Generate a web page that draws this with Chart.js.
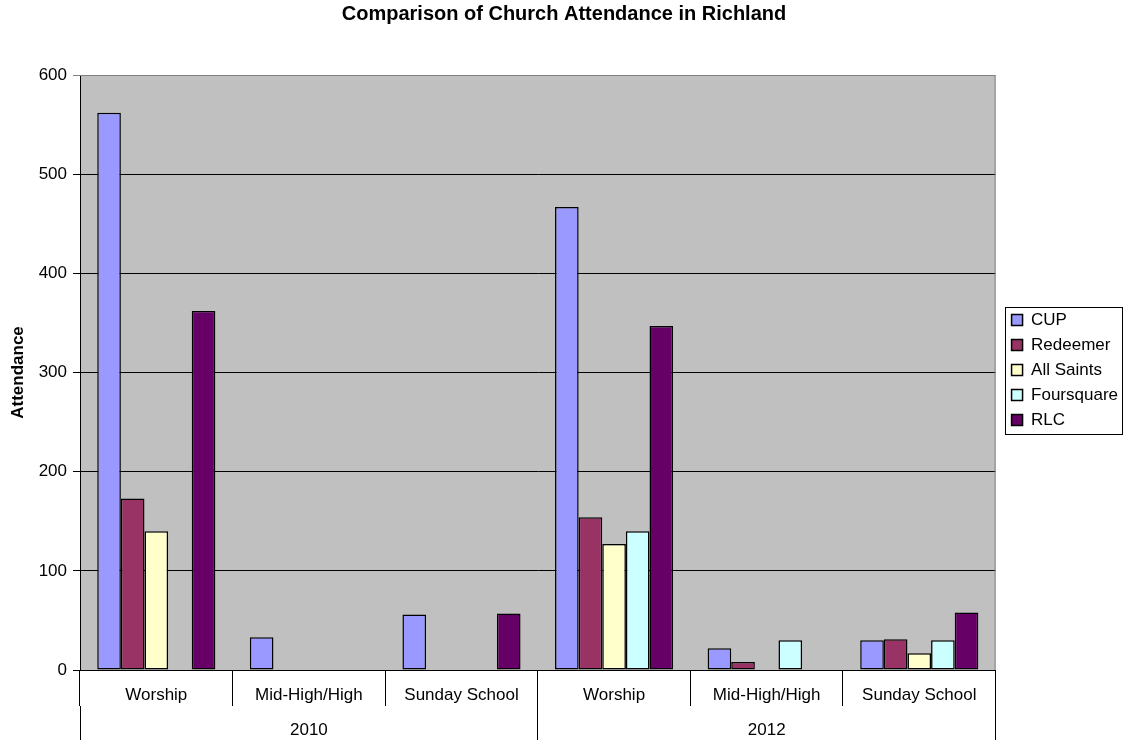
<!DOCTYPE html>
<html>
<head>
<meta charset="utf-8">
<script src="https://cdn.jsdelivr.net/npm/chart.js@4"></script>
<style>
  body { margin: 0; background: #fff; }
  #wrap { width: 1125px; height: 740px; }
</style>
</head>
<body>
<div id="wrap"><canvas id="chart"></canvas></div>
<script>
// data
const services = ['Worship', 'Mid-High/High', 'Sunday School', 'Worship', 'Mid-High/High', 'Sunday School'];
const years = ['2010', '2012'];
const cup = [562, 33, 56, 467, 22, 30];
const redeemer = [173, null, null, 154, 8, 31];
const allSaints = [140, null, null, 127, null, 17];
const foursquare = [null, null, null, 140, 30, 30];
const rlc = [362, null, 57, 347, null, 58];

const FONT = '"Liberation Sans", Arial, sans-serif';

// grey plot area + legend frame
const frame = {
  id: 'frame',
  beforeDraw(chart) {
    const { ctx, chartArea: a } = chart;
    ctx.save();
    ctx.fillStyle = '#C0C0C0';
    ctx.fillRect(a.left, a.top, a.right - a.left, a.bottom - a.top);
    ctx.restore();
  },
  afterDraw(chart) {
    const { ctx, chartArea: a } = chart;
    ctx.save();
    ctx.strokeStyle = '#808080';
    ctx.lineWidth = 1;
    ctx.beginPath();
    ctx.moveTo(a.left, a.top + 0.5);
    ctx.lineTo(a.right - 0.5, a.top + 0.5);
    ctx.lineTo(a.right - 0.5, a.bottom);
    ctx.stroke();

    const boxes = chart.legend.legendHitBoxes;
    if (boxes && boxes.length) {
      const l = Math.min(...boxes.map(b => b.left)) - 7;
      const r = Math.max(...boxes.map(b => b.left + b.width)) + 4;
      const t = boxes[0].top - 5;
      const last = boxes[boxes.length - 1];
      const b = last.top + last.height + 5;
      ctx.strokeStyle = '#000';
      ctx.strokeRect(Math.round(l) + 0.5, Math.round(t) + 0.5, Math.round(r - l), Math.round(b - t));
    }
    ctx.restore();
  }
};

const ds = (label, data, color) => ({
  label, data,
  backgroundColor: color,
  borderColor: '#000',
  borderWidth: 1.5,
  borderSkipped: false,
  categoryPercentage: 0.774,
  barPercentage: 1.0
});

new Chart(document.getElementById('chart'), {
  type: 'bar',
  data: {
    labels: services,
    datasets: [
      ds('CUP', cup, '#9999FF'),
      ds('Redeemer', redeemer, '#993366'),
      ds('All Saints', allSaints, '#FFFFCC'),
      ds('Foursquare', foursquare, '#CCFFFF'),
      ds('RLC', rlc, '#660066')
    ]
  },
  options: {
    responsive: true,
    maintainAspectRatio: false,
    animation: false,
    layout: { padding: { right: -3 } },
    plugins: {
      title: {
        display: true,
        text: 'Comparison of Church Attendance in Richland',
        color: '#000',
        font: { family: FONT, size: 20, weight: 'bold' },
        padding: { top: 2, bottom: 49 }
      },
      legend: {
        position: 'right',
        labels: {
          color: '#000',
          font: { family: FONT, size: 17 },
          boxWidth: 11,
          boxHeight: 11,
          padding: 8
        }
      },
      tooltip: { enabled: false }
    },
    scales: {
      x: {
        type: 'category',
        offset: true,
        grid: { offset: true, drawOnChartArea: false, tickLength: 36, color: '#000' },
        border: { color: '#000' },
        ticks: { color: '#000', font: { family: FONT, size: 17 }, padding: -21, autoSkip: false, maxRotation: 0 },
        afterFit: s => { s.height = 36; }
      },
      x2: {
        type: 'category',
        labels: years,
        position: 'bottom',
        offset: true,
        grid: { offset: true, drawOnChartArea: false, tickLength: 36, color: '#000' },
        border: { display: false },
        ticks: { color: '#000', font: { family: FONT, size: 17 }, padding: -22, maxRotation: 0 },
        afterFit: s => { s.height = 34; }
      },
      y: {
        min: 0,
        max: 600,
        ticks: { stepSize: 100, color: '#000', font: { family: FONT, size: 17 }, padding: 6 },
        grid: { color: c => (c.tick && c.tick.value === 600 ? '#808080' : '#000'), tickLength: 7 },
        border: { color: '#000' },
        title: {
          display: true,
          text: 'Attendance',
          color: '#000',
          font: { family: FONT, size: 17, weight: 'bold' },
          padding: { top: 8, bottom: 0 }
        },
        afterFit: s => { s.width = 80; }
      },
      gap: {
        type: 'linear',
        position: 'right',
        grid: { display: false },
        ticks: { display: false },
        border: { display: false },
        afterFit: s => { s.width = 8; }
      }
    }
  },
  plugins: [frame]
});
</script>
</body>
</html>
